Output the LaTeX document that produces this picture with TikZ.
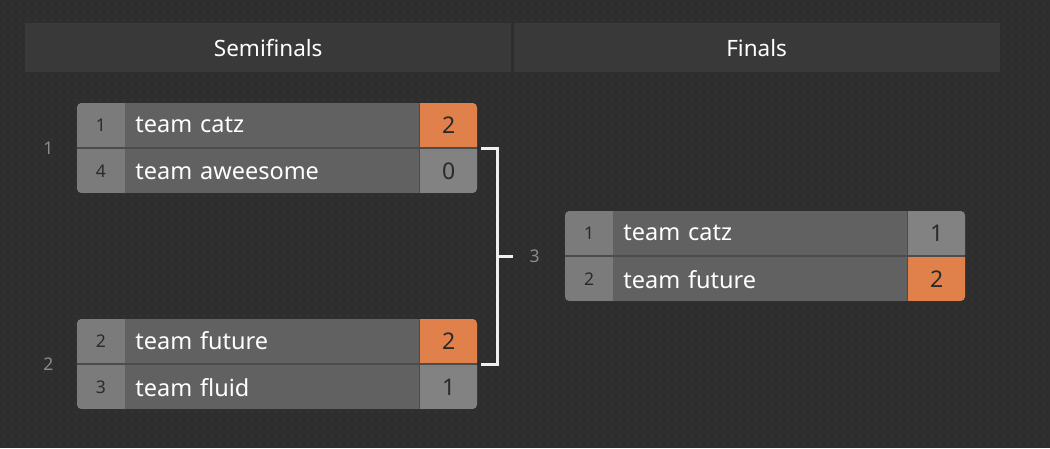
\documentclass[tikz,border=0pt]{standalone}
\usepackage{fontspec}
\setmainfont{Noto Sans}
\usetikzlibrary{positioning}
\definecolor{bgdark}{HTML}{2E2E2E}
\definecolor{bgdot}{HTML}{393939}
\definecolor{headbg}{HTML}{393939}
\definecolor{seedgray}{HTML}{7B7B7B}
\definecolor{teamgray}{HTML}{616161}
\definecolor{scoregray}{HTML}{828282}
\definecolor{winorange}{HTML}{E0804A}
\definecolor{rowsep}{HTML}{4C4C4C}
\definecolor{labgray}{HTML}{8C8C8C}
\definecolor{inkdark}{HTML}{2A2A2A}
\tikzset{
    headcell/.style={rectangle, fill=headbg, minimum width=486pt, minimum height=49pt, inner sep=0pt, text=white, font=\fontsize{22.5}{26}\selectfont},
    matchbox/.style={rectangle, fill=rowsep, rounded corners=5pt, minimum width=400pt, minimum height=90pt, inner sep=0pt},
    seedcell/.style={rectangle, fill=seedgray, minimum width=48pt, minimum height=44pt, inner sep=0pt, text=inkdark, font=\fontsize{17.5}{20}\selectfont},
    teamcell/.style={rectangle, fill=teamgray, minimum height=44pt, text width=274pt, inner xsep=10pt, inner ysep=0pt, align=left, text=white, font=\fontsize{23.5}{27}\selectfont},
    scorecell/.style={rectangle, fill=scoregray, minimum width=58pt, minimum height=44pt, inner sep=0pt, text=inkdark, font=\fontsize{23}{27}\selectfont},
    wincell/.style={scorecell, fill=winorange},
    matchlab/.style={text=labgray, font=\fontsize{17.5}{20}\selectfont},
    bracket/.style={draw=white!94!black, line width=3pt},
}

\begin{document}
\begin{tikzpicture}[x=1pt, y=-1pt]

% -- background --
\useasboundingbox (0,0) rectangle (1050,448);
\fill[bgdark] (0,0) rectangle (1050,448);
\foreach \x in {4,12,...,1046}
    \foreach \y in {4,12,...,444}
        \fill[bgdot] (\x,\y) circle (0.8pt);

% -- round headers --
\node[headcell, anchor=north west] (semi) at (25,23) {Semifinals};
\node[headcell, right=2pt of semi] (fin) {Finals};

% -- match 1 --
\node[matchbox] (m1) at (277,148) {};
\begin{scope}
\clip[rounded corners=5pt] (m1.north west) rectangle (m1.south east);
\node[seedcell, anchor=north west] (m1seedA) at (m1.north west) {1};
\node[teamcell, right=0pt of m1seedA] (m1teamA) {team catz};
\node[wincell, right=0pt of m1teamA] (m1scoreA) {2};
\node[seedcell, below=2pt of m1seedA] (m1seedB) {4};
\node[teamcell, right=0pt of m1seedB] (m1teamB) {team aweesome};
\node[scorecell, right=0pt of m1teamB] (m1scoreB) {0};
\end{scope}
\node[matchlab, left=20pt of m1] (lab1) {1};

% -- match 2 --
\node[matchbox] (m2) at (277,364) {};
\begin{scope}
\clip[rounded corners=5pt] (m2.north west) rectangle (m2.south east);
\node[seedcell, anchor=north west] (m2seedA) at (m2.north west) {2};
\node[teamcell, right=0pt of m2seedA] (m2teamA) {team future};
\node[wincell, right=0pt of m2teamA] (m2scoreA) {2};
\node[seedcell, below=2pt of m2seedA] (m2seedB) {3};
\node[teamcell, right=0pt of m2seedB] (m2teamB) {team fluid};
\node[scorecell, right=0pt of m2teamB] (m2scoreB) {1};
\end{scope}
\node[matchlab, left=20pt of m2] (lab2) {2};

% -- final --
\node[matchbox] (m3) at (765,256) {};
\begin{scope}
\clip[rounded corners=5pt] (m3.north west) rectangle (m3.south east);
\node[seedcell, anchor=north west] (m3seedA) at (m3.north west) {1};
\node[teamcell, right=0pt of m3seedA] (m3teamA) {team catz};
\node[scorecell, right=0pt of m3teamA] (m3scoreA) {1};
\node[seedcell, below=2pt of m3seedA] (m3seedB) {2};
\node[teamcell, right=0pt of m3seedB] (m3teamB) {team future};
\node[wincell, right=0pt of m3teamB] (m3scoreB) {2};
\end{scope}

% -- bracket --
\coordinate (join) at (497,256);
\coordinate (stub) at (513,256);
\draw[bracket] ([xshift=4pt]m1.east) -| (join) |- ([xshift=4pt]m2.east);
\draw[bracket] (join) -- (stub);
\node[matchlab, right=13pt of stub] (lab3) {3};

\end{tikzpicture}
\end{document}
